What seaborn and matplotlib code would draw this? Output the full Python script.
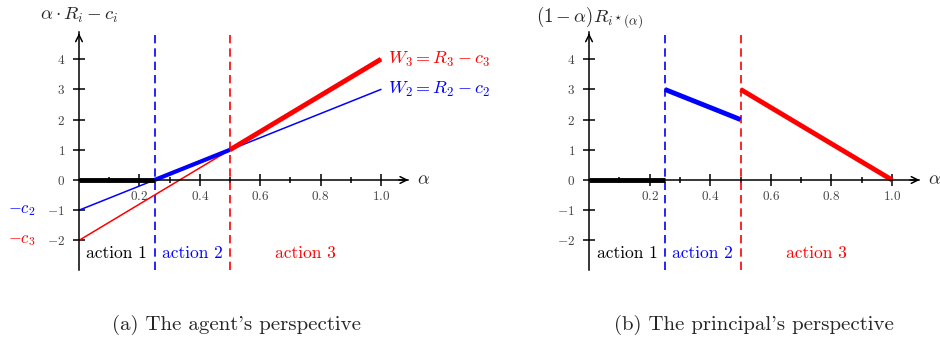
import numpy as np
import pandas as pd
import matplotlib
matplotlib.use('Agg')
import matplotlib.pyplot as plt
import seaborn as sns

# data
alpha_ends = [0.0, 1.0]
w2_line = [-1.0, 3.0]          # alpha*R2 - c2
w3_line = [-2.0, 4.0]          # alpha*R3 - c3
thresholds = [0.25, 0.5]       # switch points between actions

# agent's best response (thick)
agent_x1, agent_y1 = [0.0, 0.25], [0.0, 0.0]
agent_x2, agent_y2 = [0.25, 0.5], [0.0, 1.0]
agent_x3, agent_y3 = [0.5, 1.0], [1.0, 4.0]

# principal's utility (thick)
princ_x1, princ_y1 = [0.0, 0.25], [0.0, 0.0]
princ_x2, princ_y2 = [0.25, 0.5], [3.0, 2.0]
princ_x3, princ_y3 = [0.5, 1.0], [3.0, 0.0]

y_ticks = [-2, -1, 0, 1, 2, 3, 4]
x_major = [0.2, 0.4, 0.6, 0.8, 1.0]
x_minor = [0.1, 0.3, 0.5, 0.7, 0.9]
action_labels = ['action 1', 'action 2', 'action 3']
action_centers = [0.125, 0.375, 0.75]
action_colors = ['black', 'blue', 'red']

sns.set_theme(style='white')
plt.rcParams['font.family'] = ['cmr10', 'DejaVu Serif']
plt.rcParams['mathtext.fontset'] = 'cm'
plt.rcParams['axes.unicode_minus'] = False

fig = plt.figure(figsize=(9.4, 3.41), dpi=100)
ax_a = fig.add_axes([0.0, 0.1496, 0.5, 0.8504])
ax_b = fig.add_axes([0.5, 0.1496, 0.5, 0.8504])
ax_a.set_xlim(-0.2616, 1.2947)
ax_b.set_xlim(-0.3927, 1.158)
for ax in (ax_a, ax_b):
    ax.set_ylim(-3.642, 5.96)
    ax.patch.set_alpha(0)


def draw_frame(ax):
    for s in ['top', 'right']:
        ax.spines[s].set_visible(False)
    ax.spines['left'].set_position(('data', 0))
    ax.spines['bottom'].set_position(('data', 0))
    ax.spines['left'].set_bounds(-2.98, 4.9)
    ax.spines['bottom'].set_bounds(0, 1.09)
    for s in ['left', 'bottom']:
        ax.spines[s].set_color('black')
        ax.spines[s].set_linewidth(1.1)
    ax.annotate('', xy=(0, 4.95), xytext=(0, 4.7),
                arrowprops=dict(arrowstyle='->', color='black', lw=1.1))
    ax.annotate('', xy=(1.1, 0), xytext=(1.05, 0),
                arrowprops=dict(arrowstyle='->', color='black', lw=1.1))
    ax.set_yticks(y_ticks)
    ax.set_yticklabels(['$%d$' % v for v in y_ticks])
    ax.set_xticks(x_major)
    ax.set_xticklabels(['$%.1f$' % v for v in x_major])
    ax.set_xticks(x_minor, minor=True)
    ax.tick_params(axis='both', which='both', bottom=True, left=True)
    ax.tick_params(axis='both', which='major', direction='inout', length=8,
                   width=1.1, color='black', labelsize=9.5, labelcolor='#444444')
    ax.tick_params(axis='y', pad=6)
    ax.tick_params(axis='x', pad=3)
    ax.tick_params(axis='x', which='minor', direction='inout', length=5,
                   width=1.1, color='black')
    ax.set_xlabel('')
    ax.set_ylabel('')
    ax.text(1.12, 0, r'$\alpha$', fontsize=13, ha='left', va='center')
    for xv, col in zip(thresholds, ['blue', 'red']):
        ax.plot([xv, xv], [-2.98, 4.88], color=col, lw=1.2, ls=(0, (5, 3)))
    for lab, xc, col in zip(action_labels, action_centers, action_colors):
        ax.text(xc, -2.42, lab, color=col, fontsize=12.5, ha='center', va='center')


# (a) agent's perspective
draw_frame(ax_a)
sns.lineplot(x=alpha_ends, y=w2_line, color='blue', lw=1.1, ax=ax_a)
sns.lineplot(x=alpha_ends, y=w3_line, color='red', lw=1.1, ax=ax_a)
sns.lineplot(x=agent_x1, y=agent_y1, color='black', lw=3.5, solid_capstyle='butt', ax=ax_a)
sns.lineplot(x=agent_x2, y=agent_y2, color='blue', lw=3, solid_capstyle='butt', ax=ax_a)
sns.lineplot(x=agent_x3, y=agent_y3, color='red', lw=3.5, solid_capstyle='butt', ax=ax_a)
ax_a.text(1.023, 4, r'$W_3 = R_3 - c_3$', color='red', fontsize=13, ha='left', va='center')
ax_a.text(1.023, 3, r'$W_2 = R_2 - c_2$', color='blue', fontsize=13, ha='left', va='center')
ax_a.text(-0.19, -1, r'$-c_2$', color='blue', fontsize=12, ha='center', va='center')
ax_a.text(-0.19, -2, r'$-c_3$', color='red', fontsize=12, ha='center', va='center')
ax_a.text(0, 5.46, r'$\alpha \cdot R_i - c_i$', fontsize=13.5, ha='center', va='center')

# (b) principal's perspective
draw_frame(ax_b)
sns.lineplot(x=princ_x1, y=princ_y1, color='black', lw=3.5, solid_capstyle='butt', ax=ax_b)
sns.lineplot(x=princ_x2, y=princ_y2, color='blue', lw=3.5, solid_capstyle='butt', ax=ax_b)
sns.lineplot(x=princ_x3, y=princ_y3, color='red', lw=3.5, solid_capstyle='butt', ax=ax_b)
ax_b.text(0, 5.4, r'$(1-\alpha)R_{i^\star(\alpha)}$', fontsize=13.5, ha='center', va='center')

for ax in (ax_a, ax_b):
    ax.set_xlabel('')
    ax.set_ylabel('')

fig.text(237 / 940, 1 - 325 / 341, "(a) The agent's perspective", fontsize=15,
         ha='center', va='center')
fig.text(754 / 940, 1 - 325 / 341, "(b) The principal's perspective", fontsize=15,
         ha='center', va='center')

fig.savefig('out.png', dpi=100)
